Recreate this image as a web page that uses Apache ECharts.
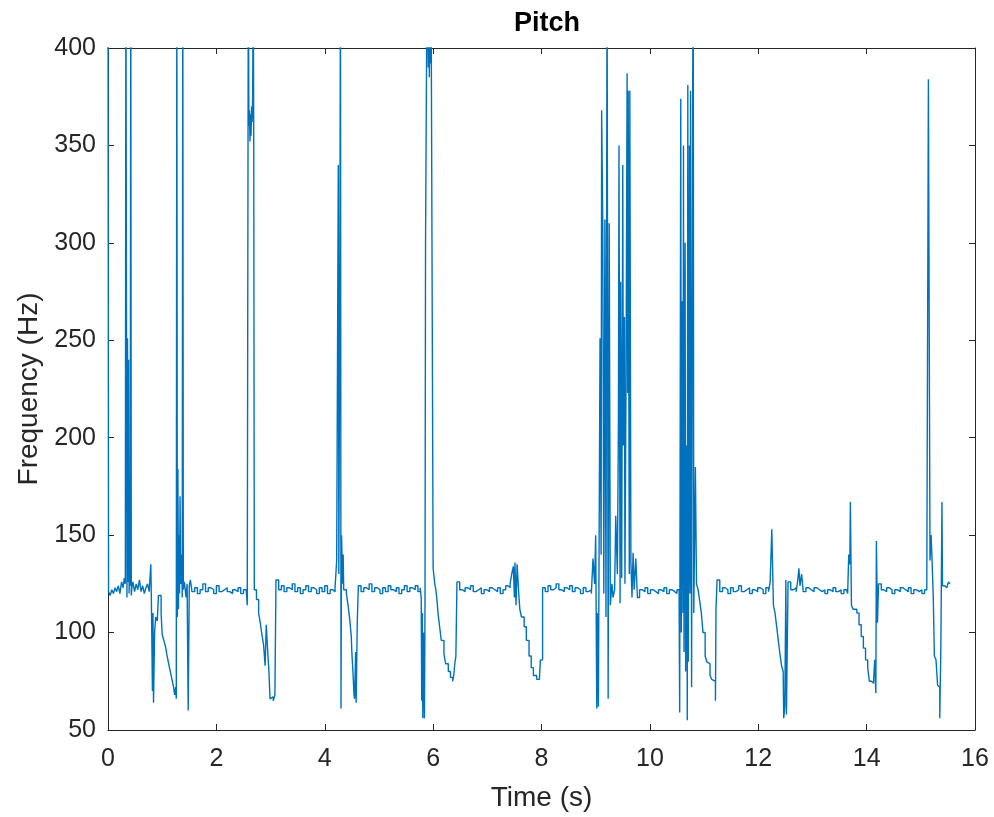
<!DOCTYPE html>
<html>
<head>
<meta charset="utf-8">
<script src="https://cdn.jsdelivr.net/npm/echarts@6/dist/echarts.min.js"></script>
<style>html,body{margin:0;padding:0;background:#fff}#c{width:994px;height:817px}</style>
</head>
<body>
<div id="c"></div>
<script>
// Pitch track: [time (s), frequency (Hz)]; values above 400 are clipped by the axis
const track0to2 = [[0.00,450],[0.01,121],[0.04,119],[0.07,122],[0.10,120],[0.13,123],[0.16,121],[0.19,124],[0.22,120],[0.25,126],[0.28,123],[0.30,128],[0.32,125],[0.33,450],[0.35,118],[0.36,251],[0.37,126],[0.38,240],[0.39,120],[0.40,180],[0.41,124],[0.42,450],[0.43,119],[0.44,123],[0.46,126],[0.49,121],[0.52,125],[0.55,122],[0.58,127],[0.61,121],[0.64,124],[0.67,120],[0.70,123],[0.73,125],[0.76,121],[0.79,135],[0.80,118],[0.82,70],[0.83,110],[0.84,64],[0.86,100],[0.88,108],[0.91,106],[0.93,119],[0.96,119],[0.98,110],[1.00,99],[1.03,96],[1.06,93],[1.09,88],[1.12,84],[1.15,80],[1.18,76],[1.21,72],[1.23,68],[1.25,72],[1.26,66],[1.27,450],[1.28,108],[1.29,184],[1.30,112],[1.31,150],[1.32,120],[1.33,170],[1.34,125],[1.36,140],[1.37,118],[1.38,450],[1.39,122],[1.41,126],[1.44,118],[1.46,125],[1.48,60],[1.50,124],[1.52,127],[1.55,121],[1.60,123],[1.65,120],[1.70,122],[1.75,125],[1.80,121],[1.85,123],[1.90,122],[1.95,120]];
const track2to4 = [[2.00,124],[2.05,121],[2.10,122],[2.15,123],[2.20,121],[2.25,120],[2.30,122],[2.35,121],[2.40,123],[2.45,120],[2.50,122],[2.55,121],[2.57,114],[2.59,450],[2.60,360],[2.61,368],[2.62,352],[2.63,366],[2.64,355],[2.65,370],[2.66,362],[2.67,375],[2.68,450],[2.69,345],[2.70,122],[2.74,117],[2.78,110],[2.81,105],[2.84,99],[2.87,94],[2.90,83],[2.92,104],[2.95,89],[2.97,80],[2.99,66],[3.02,67],[3.05,65],[3.08,68],[3.10,127],[3.15,122],[3.20,124],[3.25,121],[3.30,123],[3.35,122],[3.40,125],[3.45,121],[3.50,123],[3.55,120],[3.60,122],[3.65,124],[3.70,121],[3.75,123],[3.80,122],[3.85,120],[3.90,123],[3.95,121]];
const track4to6 = [[4.00,124],[4.05,120],[4.10,122],[4.15,121],[4.19,123],[4.22,137],[4.25,340],[4.26,130],[4.28,300],[4.29,450],[4.30,61],[4.31,150],[4.33,125],[4.34,140],[4.35,122],[4.40,120],[4.43,114],[4.46,107],[4.49,98],[4.50,90],[4.52,80],[4.54,68],[4.55,66],[4.57,90],[4.58,64],[4.60,105],[4.62,124],[4.67,121],[4.72,123],[4.77,122],[4.82,125],[4.87,121],[4.92,123],[4.97,122],[5.02,120],[5.07,123],[5.12,121],[5.17,124],[5.22,122],[5.27,121],[5.32,123],[5.37,120],[5.42,122],[5.47,124],[5.52,121],[5.57,123],[5.62,122],[5.67,124],[5.72,121],[5.76,123],[5.78,118],[5.79,65],[5.80,110],[5.81,56],[5.82,100],[5.84,56],[5.85,114],[5.86,300],[5.88,300],[5.89,450],[5.91,390],[5.92,450],[5.93,385],[5.94,450],[5.95,392],[5.96,450],[5.99,450]];
const track6to8 = [[6.00,133],[6.03,125],[6.05,122],[6.07,117],[6.09,110],[6.12,103],[6.15,96],[6.20,89],[6.23,84],[6.28,80],[6.32,77],[6.36,75],[6.38,78],[6.40,84],[6.42,88],[6.44,126],[6.49,122],[6.54,121],[6.59,123],[6.64,122],[6.69,124],[6.74,121],[6.79,122],[6.84,123],[6.89,120],[6.94,122],[6.99,121],[7.04,123],[7.09,122],[7.14,121],[7.19,123],[7.24,120],[7.29,122],[7.34,124],[7.38,123],[7.42,125],[7.45,130],[7.48,134],[7.50,118],[7.51,136],[7.53,114],[7.55,135],[7.58,120],[7.60,112],[7.63,108],[7.68,103],[7.72,96],[7.77,88],[7.81,82],[7.85,78],[7.91,76],[7.96,75],[7.98,86]];
const track8to10 = [[8.02,123],[8.07,121],[8.12,124],[8.17,122],[8.22,123],[8.27,125],[8.32,122],[8.37,121],[8.42,123],[8.47,122],[8.52,124],[8.57,121],[8.62,123],[8.67,122],[8.72,120],[8.77,123],[8.82,121],[8.87,122],[8.92,120],[8.95,138],[8.98,125],[9.00,150],[9.02,61],[9.03,110],[9.05,62],[9.08,251],[9.10,140],[9.11,368],[9.13,312],[9.15,120],[9.17,312],[9.19,108],[9.21,450],[9.23,66],[9.25,310],[9.27,114],[9.30,125],[9.32,118],[9.35,122],[9.37,160],[9.40,130],[9.42,210],[9.43,350],[9.45,115],[9.46,280],[9.48,128],[9.50,340],[9.51,196],[9.53,262],[9.54,125],[9.56,230],[9.58,387],[9.59,223],[9.60,378],[9.62,130],[9.63,378],[9.65,136],[9.67,118],[9.69,141],[9.71,122],[9.74,138],[9.77,118],[9.81,122],[9.86,121],[9.91,123],[9.96,120]];
const track10to12 = [[10.01,122],[10.06,121],[10.11,120],[10.16,122],[10.21,121],[10.26,123],[10.31,120],[10.36,122],[10.41,121],[10.46,120],[10.50,122],[10.54,115],[10.55,59],[10.57,374],[10.58,100],[10.60,270],[10.61,110],[10.62,350],[10.63,90],[10.65,300],[10.66,80],[10.68,196],[10.69,55],[10.70,381],[10.71,85],[10.73,350],[10.74,120],[10.75,378],[10.77,72],[10.79,380],[10.80,450],[10.81,110],[10.84,185],[10.86,125],[10.89,122],[10.92,116],[10.95,110],[10.98,100],[11.02,88],[11.05,85],[11.08,84],[11.11,78],[11.14,76],[11.17,75],[11.21,65],[11.22,112],[11.24,127],[11.29,121],[11.34,123],[11.39,122],[11.44,120],[11.49,123],[11.54,121],[11.59,122],[11.64,124],[11.69,121],[11.74,122],[11.79,123],[11.84,120],[11.89,122],[11.94,121],[11.99,123]];
const track12to14 = [[12.04,122],[12.09,120],[12.14,123],[12.19,121],[12.22,126],[12.25,153],[12.26,140],[12.28,114],[12.31,110],[12.34,103],[12.37,96],[12.40,89],[12.43,83],[12.46,80],[12.47,56],[12.49,62],[12.51,127],[12.52,58],[12.55,126],[12.60,122],[12.65,123],[12.70,121],[12.73,127],[12.75,133],[12.77,124],[12.80,130],[12.83,121],[12.88,123],[12.93,122],[12.98,121],[13.03,123],[13.08,122],[13.13,121],[13.18,122],[13.23,120],[13.28,122],[13.33,121],[13.38,123],[13.43,121],[13.48,122],[13.53,120],[13.58,122],[13.63,121],[13.65,120],[13.67,140],[13.69,135],[13.70,167],[13.72,114],[13.75,112],[13.82,110],[13.86,104],[13.90,98],[13.94,92],[13.98,86]];
const track14to16 = [[14.02,82],[14.05,75],[14.09,74],[14.13,76],[14.15,86],[14.17,69],[14.18,147],[14.20,105],[14.22,125],[14.27,122],[14.32,121],[14.37,123],[14.42,122],[14.47,120],[14.52,122],[14.57,121],[14.62,123],[14.67,122],[14.72,121],[14.77,123],[14.82,120],[14.87,122],[14.92,121],[14.97,122],[15.02,120],[15.07,122],[15.11,123],[15.14,384],[15.16,217],[15.17,137],[15.19,150],[15.21,135],[15.23,118],[15.25,88],[15.28,86],[15.31,73],[15.33,72],[15.35,56],[15.37,92],[15.39,167],[15.40,124],[15.44,123],[15.48,124],[15.51,126],[15.54,125]];

const xTicks = [0, 2, 4, 6, 8, 10, 12, 14, 16];
const yTicks = [50, 100, 150, 200, 250, 300, 350, 400];

const pitchData = [].concat(track0to2, track2to4, track4to6, track6to8, track8to10, track10to12, track12to14, track14to16);

const FONT = '"Liberation Sans", Arial, Helvetica, sans-serif';
const AX = '#262626';

const chart = echarts.init(document.getElementById('c'), null, {renderer: 'canvas'});
const baseAxis = {
  axisLine: {show: true, onZero: false, lineStyle: {color: AX, width: 1}},
  axisTick: {show: true, inside: true, length: 6, lineStyle: {color: AX}},
  splitLine: {show: false}
};
chart.setOption({
  animation: false,
  backgroundColor: '#ffffff',
  title: {
    text: 'Pitch', left: 542, top: 5, textAlign: 'center',
    textStyle: {fontFamily: FONT, fontSize: 27, fontWeight: 'bold', color: '#000'}
  },
  grid: {left: 108, right: 19, top: 48, bottom: 82, containLabel: false},
  xAxis: [
    Object.assign({}, baseAxis, {
      type: 'value', min: xTicks[0], max: xTicks[xTicks.length - 1], interval: 2, position: 'bottom',
      name: 'Time (s)', nameLocation: 'middle', nameGap: 54,
      nameTextStyle: {fontFamily: FONT, fontSize: 28, color: AX},
      axisLabel: {fontFamily: FONT, fontSize: 25, color: AX, margin: 17}
    }),
    Object.assign({}, baseAxis, {
      type: 'value', min: xTicks[0], max: xTicks[xTicks.length - 1], interval: 2, position: 'top',
      axisLabel: {show: false}
    })
  ],
  yAxis: [
    Object.assign({}, baseAxis, {
      type: 'value', min: yTicks[0], max: yTicks[yTicks.length - 1], interval: 50, position: 'left',
      name: 'Frequency (Hz)', nameLocation: 'middle', nameGap: 64,
      nameTextStyle: {fontFamily: FONT, fontSize: 28, color: AX},
      axisLabel: {fontFamily: FONT, fontSize: 25, color: AX, margin: 12}
    }),
    Object.assign({}, baseAxis, {
      type: 'value', min: yTicks[0], max: yTicks[yTicks.length - 1], interval: 50, position: 'right',
      axisLabel: {show: false}
    })
  ],
  series: [{
    type: 'line', xAxisIndex: 0, yAxisIndex: 0,
    data: pitchData, showSymbol: false, symbol: 'none', clip: true, step: 'end',
    lineStyle: {color: '#0072BD', width: 1.4}
  }]
});
</script>
</body>
</html>
